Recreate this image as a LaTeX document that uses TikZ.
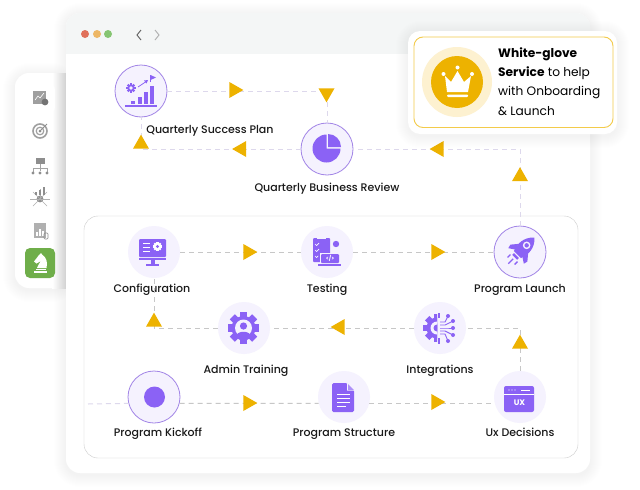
\documentclass[tikz,border=0pt]{standalone}
\usepackage{fontspec}
\setmainfont{Poppins}
\newfontfamily\labelface{Poppins Medium}
\usepackage{xcolor}
\definecolor{stepviolet}{HTML}{8B62F5}
\definecolor{steptint}{HTML}{F5F2FE}
\definecolor{stepring}{HTML}{A184E6}
\definecolor{arrowgold}{HTML}{EDB200}
\definecolor{goldtint}{HTML}{FDF1D0}
\definecolor{goldedge}{HTML}{F3CB4A}
\definecolor{barfill}{HTML}{F4F6F6}
\definecolor{sidegrey}{HTML}{8E8E8E}
\definecolor{chessgreen}{HTML}{6FAE4A}
\definecolor{linklav}{HTML}{DDD8EC}
\definecolor{dotred}{HTML}{E0705A}
\definecolor{dotamber}{HTML}{EDB765}
\definecolor{dotgreen}{HTML}{86C572}
\usetikzlibrary{
  positioning,
  shapes.geometric,
  calc
}
\tikzset{
  stepnode/.style={circle, fill=steptint, minimum size=52pt, inner sep=0pt},
  marknode/.style={stepnode, draw=stepring, line width=0.8pt},
  steplabel/.style={font=\labelface\fontsize{11}{13}\selectfont, inner sep=0pt,
    text height=8pt, text depth=2.5pt, text=black!90},
  tri/.style={isosceles triangle, isosceles triangle stretches, fill=arrowgold,
    minimum width=16pt, minimum height=14pt, inner sep=0pt},
  toplink/.style={dash pattern=on 5pt off 4pt, draw=linklav, line width=1pt},
  lowlink/.style={dash pattern=on 5pt off 4pt, draw=black!22, line width=0.9pt},
}
% toothed wheel: x, y, radius, colour
\newcommand{\gearicon}[4]{
  \fill[#4] (#1,#2) circle (#3);
  \foreach \a in {0,45,...,315}
    \fill[#4, shift={(#1,#2)}, rotate=\a] (-0.3*#3,-1.32*#3) rectangle (0.3*#3,0);
}
% soft shadow round a box: x0, y0, x1, y1, radius
\newcommand{\softshadow}[5]{
  \foreach \i in {1,...,12}
    \fill[black, opacity=0.004, rounded corners=#5+\i]
      ({#1-\i},{#2-\i+2}) rectangle ({#3+\i},{#4+\i+2});
}
\begin{document}
\begin{tikzpicture}[x=1pt, y=-1pt]
  \useasboundingbox (0,0) rectangle (640,490);

  % side rail
  \softshadow{15}{73}{66}{288}{14}
  \fill[white, rounded corners=14pt] (15,73) rectangle (80,288);
  \fill[left color=white, right color=black!13] (52,73) rectangle (66,288);
  \fill[white, rounded corners=6pt] (26,84) rectangle (55,113);

  % browser window
  \softshadow{66}{13}{590}{473}{14}
  \fill[white, rounded corners=14pt] (66,13) rectangle (590,473);
  \fill[barfill, rounded corners=14pt] (66,13) rectangle (590,70);
  \fill[white] (66,54) rectangle (590,72);
  \fill[dotred] (85,34) circle (4);
  \fill[dotamber] (97,34) circle (4);
  \fill[dotgreen] (108,34) circle (4);
  \draw[black!60, line width=1pt] (141,30) -- (137,35) -- (141,40);
  \draw[black!30, line width=1pt] (155,30) -- (159,35) -- (155,40);
  \draw[black!20, rounded corners=14pt] (84,216) rectangle (578,458);

  % step circles
  \node[marknode] (plan) at (141,91) {};
  \node[marknode] (review) at (327,149) {};
  \node[stepnode] (config) at (154,252) {};
  \node[stepnode] (testing) at (327,252) {};
  \node[marknode] (launch) at (520,252) {};
  \node[stepnode] (training) at (244,328) {};
  \node[stepnode] (integrations) at (440,328) {};
  \node[marknode] (kickoff) at (154,397) {};
  \node[stepnode] (structure) at (344,397) {};
  \node[stepnode] (decisions) at (520,397) {};
  \coordinate (entry) at (88,404);

  % labels
  \node[steplabel, below=8pt of plan, xshift=69pt] (planlab) {Quarterly Success Plan};
  \node[steplabel, below=8pt of review] (reviewlab) {Quarterly Business Review};
  \node[steplabel, below=6pt of config, xshift=-2pt] (configlab) {Configuration};
  \node[steplabel, below=6pt of testing] (testinglab) {Testing};
  \node[steplabel, below=6pt of launch] (launchlab) {Program Launch};
  \node[steplabel, below=11pt of training, xshift=2pt] (traininglab) {Admin Training};
  \node[steplabel, below=11pt of integrations] (integrationslab) {Integrations};
  \node[steplabel, below=5pt of kickoff, xshift=4pt] (kickofflab) {Program Kickoff};
  \node[steplabel, below=5pt of structure] (structurelab) {Program Structure};
  \node[steplabel, below=5pt of decisions] (decisionslab) {Ux Decisions};

  % links
  \draw[toplink] (plan) -| (review);
  \draw[toplink] (review) -| (plan);
  \draw[toplink] (launch) |- (review);
  \draw[lowlink] (config) -- (testing);
  \draw[lowlink] (testing) -- (launch);
  \draw[lowlink] (decisions) |- (integrations);
  \draw[lowlink] (integrations) -- (training);
  \draw[lowlink] (training) -| (config);
  \draw[toplink] (entry) -- (kickoff.194);
  \draw[lowlink] (kickoff.-14) -- (structure.194);
  \draw[lowlink] (structure.-14) -- (decisions.194);

  % arrow heads
  \node[tri] (t1) at (234,90) {};
  \node[tri, shape border rotate=270] (t2) at (326.5,93) {};
  \node[tri, shape border rotate=180] (t3) at (241.5,149) {};
  \node[tri, shape border rotate=90] (t4) at (141,144) {};
  \node[tri, shape border rotate=180] (t5) at (439,149) {};
  \node[tri, shape border rotate=90] (t6) at (520,176.5) {};
  \node[tri] (t7) at (248,252) {};
  \node[tri] (t8) at (436,252) {};
  \node[tri, shape border rotate=90] (t9) at (520,344) {};
  \node[tri, shape border rotate=180] (t10) at (340,327) {};
  \node[tri, shape border rotate=90] (t11) at (154,322) {};
  \node[tri] (t12) at (248,403) {};
  \node[tri] (t13) at (436,402) {};

  % plan icon
  \fill[stepviolet] (125,105) rectangle (157,106.5);
  \fill[stepviolet] (131,101) rectangle (135,104);
  \fill[stepviolet] (137.5,97) rectangle (141.5,104);
  \fill[stepviolet] (144,92) rectangle (148,104);
  \fill[stepviolet] (150,86) rectangle (154,104);
  \gearicon{131}{88}{3.6}{stepviolet}
  \fill[steptint] (131,88) circle (1.8);
  \draw[stepviolet, line width=0.8pt] (138,87) -- (147,81);
  \fill[stepviolet] (148,80) -- (144,80.5) -- (146.5,83.5) -- cycle;
  \draw[stepviolet, line width=0.8pt] (150.5,82) -- (150.5,75);
  \fill[stepviolet] (150.5,75) -- (156,77.5) -- (150.5,80) -- cycle;

  % review icon
  \fill[stepviolet] (326.5,134.5) arc (-90:-360:14) -- (326.5,148.5) -- cycle;
  \fill[stepviolet] (328,134) arc (-90:0:13) -- (328,147) -- cycle;

  % config icon
  \fill[stepviolet, rounded corners=1pt] (139,239) rectangle (166,257);
  \fill[stepviolet] (139,258) rectangle (166,260);
  \fill[stepviolet] (150.5,260) rectangle (155,264);
  \fill[stepviolet] (146,264) rectangle (159,266);
  \gearicon{157.5}{246.5}{3.4}{white}
  \fill[stepviolet] (157.5,246.5) circle (1.6);
  \foreach \y in {243,247,251}
    \fill[white] (143,\y) rectangle (150,{\y+1});

  % testing icon
  \fill[stepviolet, rounded corners=1pt] (313,238) rectangle (330,262);
  \fill[steptint] (317,236) rectangle (326,239);
  \foreach \y in {244,250,256}
    \draw[white, line width=0.7pt] (315,\y) -- (316.5,{\y+1.5}) -- (319,{\y-1});
  \fill[stepviolet] (336,244) circle (3.2);
  \fill[stepviolet] (330,255) arc (180:360:-6 and -5.5) -- cycle;
  \fill[steptint] (319.5,252.5) rectangle (340,266);
  \fill[stepviolet, rounded corners=1pt] (321,254) rectangle (339,263);
  \fill[stepviolet] (318,264) rectangle (341,266);
  \node[text=white, font=\fontsize{5.5}{6}\selectfont\bfseries, inner sep=0pt] (codetxt) at (330,258.5) {</>};

  % launch icon
  \begin{scope}[shift={(521,251)}, rotate=-45]
    \fill[stepviolet] (0,-19) .. controls (8,-12) and (8,-2) .. (5,5) -- (-5,5) .. controls (-8,-2) and (-8,-12) .. (0,-19) -- cycle;
    \fill[steptint] (0,-8) circle (3.8);
    \fill[stepviolet] (0,-8) circle (2.2);
    \fill[stepviolet] (-7,-3) -- (-12,3) -- (-11,7) -- (-5,3) -- cycle;
    \fill[stepviolet] (7,-3) -- (12,3) -- (11,7) -- (5,3) -- cycle;
    \fill[stepviolet] (-3.5,6.5) rectangle (3.5,9);
    \draw[stepviolet, line width=1.3pt] (0,11) -- (0,18) (-5,10) -- (-5,14) (5,10) -- (5,14);
  \end{scope}

  % training icon
  \gearicon{243.5}{328}{12}{stepviolet}
  \fill[steptint] (243.5,328) circle (8.5);
  \fill[stepviolet] (243.5,326) circle (3.6);
  \fill[stepviolet] (236,337) .. controls (236,330) and (251,330) .. (251,337) -- (247,340) -- (240,340) -- cycle;

  % integrations icon
  \begin{scope}
    \clip (420,310) rectangle (437,346);
    \gearicon{437}{328}{10.5}{stepviolet}
    \fill[steptint] (437,328) circle (6.5);
    \fill[stepviolet] (437,328) circle (3.5);
  \end{scope}
  \fill[stepviolet] (438,312.5) rectangle (440,318);
  \fill[stepviolet] (438,338) rectangle (440,343.5);
  \foreach \dx/\dy/\fy in {448/316/322, 453/321/325, 453/328/328, 453/335/331, 448/341/334} {
    \draw[stepviolet, line width=0.9pt] (440,\fy) -- (445,\fy) -- (\dx,\dy);
    \fill[stepviolet] (\dx,\dy) circle (2);
  }

  % kickoff icon
  \fill[stepviolet] (154.5,397) circle (10.5);

  % structure icon
  \fill[stepviolet, rounded corners=1.5pt] (332,383) -- (347,383) -- (354,390) -- (354,412) -- (332,412) -- cycle;
  \fill[steptint] (347,382.5) -- (355,390.5) -- (347,390.5) -- cycle;
  \fill[stepviolet!70] (348,384) -- (354,390) -- (348,390) -- cycle;
  \foreach \y/\xe in {394/350, 398/350, 402/350, 406/346}
    \fill[white] (337,\y) rectangle (\xe,{\y+1.2});

  % decisions icon
  \fill[stepviolet, rounded corners=2pt] (504,386) rectangle (534,412);
  \fill[white] (504,393.5) rectangle (534,394.3);
  \foreach \x in {509,512,515}
    \fill[white] (\x,390) circle (0.6);
  \fill[white] (521,389.5) rectangle (530,390.7);
  \node[text=white, font=\fontsize{8}{9}\selectfont\bfseries, inner sep=0pt] (uxtxt) at (519.5,402.5) {UX};

  % rail icons
  \fill[sidegrey!85] (33,91) rectangle (46,104);
  \draw[white, line width=0.6pt] (35,100) -- (38,96) -- (40,98) -- (44,93);
  \fill[black!55] (45,102) circle (3.4);
  \draw[sidegrey!85, line width=1.6pt] (40,131) circle (7);
  \draw[sidegrey!85, line width=1.2pt] (40,131) circle (3.8);
  \fill[sidegrey] (40,131) circle (1.5);
  \draw[sidegrey, line width=0.8pt] (40,131) -- (47,124);
  \fill[sidegrey] (35.5,158) rectangle (45,164);
  \draw[sidegrey!80, line width=0.5pt] (40,164) -- (40,171) (33,172) -- (33,168) -- (47,168) -- (47,172);
  \foreach \x in {33,40,47}
    \fill[sidegrey] (\x,173) circle (1.7);
  \fill[sidegrey] (40,199) circle (3.4);
  \foreach \a in {0,45,135,180,225,270,315}
    \draw[sidegrey!70, line width=0.5pt] (40,199) -- ++(\a:10);
  \foreach \x/\t in {36/192, 40/190, 44/187}
    \draw[sidegrey, line width=1.1pt] (\x,195) -- (\x,\t);
  \fill[sidegrey!70] (34,223) rectangle (46,238);
  \foreach \x/\t in {36/232, 39/229, 42/231}
    \fill[white] (\x,236) rectangle ({\x+1.6},\t);
  \draw[sidegrey, line width=0.6pt, rounded corners=1pt] (44,233) rectangle (48,239);

  % active rail button
  \node[fill=chessgreen, rounded corners=5pt, minimum size=30pt, inner sep=0pt] (chess) at (40,263) {};
  \fill[white] (41,253) -- (42.5,255) .. controls (46,257) and (48,262) .. (46.5,268) -- (37,268) .. controls (37,265) and (40,264) .. (41,261) -- (36.5,263.5) -- (34,261.5) -- (39,255) -- cycle;
  \fill[white] (36,269) rectangle (46,270.2);
  \fill[white] (34,271) rectangle (47,273);

  % callout
  \softshadow{408}{31}{617}{134}{12}
  \fill[white, rounded corners=12pt] (408,31) rectangle (617,134);
  \draw[goldedge, line width=0.9pt, rounded corners=9pt] (414,37) rectangle (613,127.5);
  \node[circle, fill=goldtint, minimum size=70pt, inner sep=0pt] (halo) at (457,82) {};
  \node[circle, fill=arrowgold, minimum size=52pt, inner sep=0pt] (crown) at (457,82) {};
  \fill[white] (445,76) -- (451,82) -- (457.5,71) -- (464,82) -- (471,76) -- (468,92) -- (447,92) -- cycle;
  \fill[white, rounded corners=1pt] (447,94.5) rectangle (468,97);
  \fill[white] (443.5,74) circle (2);
  \fill[white] (457.5,67.5) circle (2);
  \fill[white] (472,74) circle (2);
  \node[anchor=north west, align=left, inner sep=0pt, font=\fontsize{12.2}{19.2}\selectfont, text=black] (note) at (498,47.5)
    {\textbf{White-glove}\\\textbf{Service} to help\\with Onboarding\\\& Launch};
\end{tikzpicture}
\end{document}
